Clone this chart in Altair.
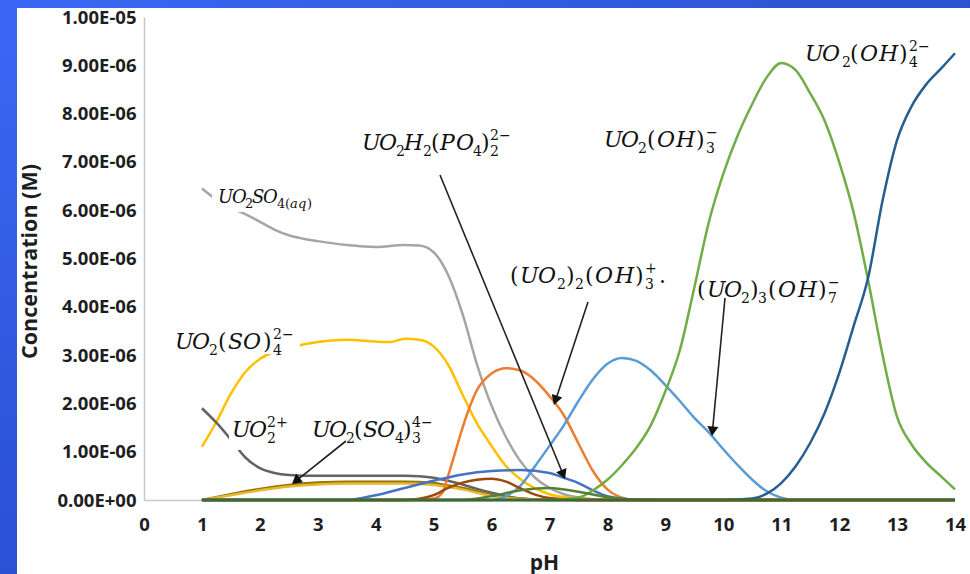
import math
import altair as alt
import pandas as pd

# ------------------------------------------------------------------
# Data (pH, concentration in micro-molar)
# ------------------------------------------------------------------
ph_uo2so4 = [1, 1.25, 1.5, 1.75, 2, 2.25, 2.5, 2.75, 3, 3.5, 4, 4.5, 4.75, 5, 5.25, 5.5,
             5.75, 6, 6.25, 6.5, 6.75, 7, 7.25, 7.5, 8, 14]
c_uo2so4 = [6.45, 6.22, 6.05, 5.92, 5.76, 5.6, 5.48, 5.41, 5.36, 5.28, 5.24, 5.28, 5.27, 5.13,
            4.66, 3.85, 2.8, 1.95, 1.3, 0.8, 0.46, 0.25, 0.12, 0.05, 0, 0]

ph_uo2so4_2 = [1, 1.25, 1.5, 1.75, 2, 2.25, 2.5, 2.75, 3, 3.5, 4, 4.25, 4.5, 4.75, 5, 5.25,
               5.5, 5.75, 6, 6.25, 6.5, 6.75, 7, 7.5, 8, 14]
c_uo2so4_2 = [1.1, 1.62, 2.2, 2.65, 2.92, 3.07, 3.16, 3.22, 3.27, 3.32, 3.28, 3.27, 3.34, 3.32,
              3.18, 2.8, 2.18, 1.58, 1.12, 0.7, 0.43, 0.24, 0.12, 0.03, 0, 0]

ph_uo2 = [1, 1.25, 1.5, 1.75, 2, 2.25, 2.5, 3, 3.5, 4, 4.5, 4.75, 5, 5.25, 5.5, 5.75, 6,
          6.25, 6.5, 7, 14]
c_uo2 = [1.9, 1.6, 1.25, 0.88, 0.66, 0.56, 0.52, 0.5, 0.5, 0.5, 0.5, 0.49, 0.46, 0.4, 0.32,
         0.23, 0.15, 0.08, 0.03, 0, 0]

ph_uo2so4_3 = [1, 1.5, 2, 2.5, 3, 3.5, 4, 4.5, 5, 5.25, 5.5, 5.75, 6, 6.5, 7, 14]
c_uo2so4_3 = [0, 0.12, 0.23, 0.31, 0.36, 0.38, 0.38, 0.38, 0.35, 0.3, 0.25, 0.18, 0.1, 0.03, 0, 0]

ph_tan = [1, 1.5, 2, 2.5, 3, 3.5, 4, 4.5, 5, 5.25, 5.5, 5.75, 6, 6.5, 7, 14]
c_tan = [0, 0.1, 0.2, 0.28, 0.32, 0.34, 0.34, 0.34, 0.31, 0.27, 0.22, 0.15, 0.08, 0.02, 0, 0]

ph_uo2_2oh3 = [1, 4.5, 5, 5.15, 5.25, 5.4, 5.5, 5.75, 6, 6.25, 6.5, 6.75, 7, 7.25, 7.5, 7.75,
               8, 8.25, 8.5, 14]
c_uo2_2oh3 = [0, 0, 0.03, 0.15, 0.5, 1.1, 1.5, 2.28, 2.62, 2.73, 2.68, 2.48, 2.15, 1.75, 1.17,
              0.6, 0.22, 0.05, 0, 0]

ph_uo2_3oh7 = [1, 6, 6.25, 6.5, 6.75, 7, 7.25, 7.5, 7.75, 8, 8.25, 8.5, 8.75, 9, 9.25, 9.5,
               9.75, 10, 10.25, 10.5, 10.75, 11, 11.25, 14]
c_uo2_3oh7 = [0, 0, 0.08, 0.3, 0.7, 1.12, 1.55, 2.05, 2.5, 2.82, 2.94, 2.88, 2.68, 2.38, 2.05,
              1.7, 1.4, 1.05, 0.72, 0.42, 0.18, 0.05, 0, 0]

ph_uo2h2po4 = [1, 3.5, 4, 4.5, 5, 5.5, 6, 6.5, 7, 7.25, 7.5, 7.75, 8, 8.5, 9, 14]
c_uo2h2po4 = [0, 0, 0.1, 0.25, 0.4, 0.53, 0.6, 0.62, 0.56, 0.46, 0.35, 0.2, 0.08, 0.01, 0, 0]

ph_brown = [1, 4.5, 5, 5.25, 5.5, 5.75, 6, 6.25, 6.5, 6.75, 7, 7.5, 14]
c_brown = [0, 0, 0.1, 0.25, 0.36, 0.42, 0.44, 0.38, 0.24, 0.11, 0.04, 0, 0]

ph_uo2oh3 = [1, 7, 7.5, 7.75, 8, 8.25, 8.5, 8.75, 9, 9.25, 9.5, 9.75, 10, 10.25, 10.5, 10.75,
             11, 11.25, 11.5, 11.75, 12, 12.25, 12.5, 12.75, 13, 13.25, 13.5, 13.75, 14]
c_uo2oh3 = [0, 0, 0.05, 0.2, 0.42, 0.72, 1.08, 1.55, 2.25, 3.1, 4.4, 5.75, 6.75, 7.55, 8.2, 8.75,
            9.05, 8.9, 8.42, 7.85, 7.0, 5.95, 4.55, 3.0, 1.72, 1.15, 0.78, 0.5, 0.22]

ph_uo2oh4 = [1, 10, 10.5, 10.75, 11, 11.25, 11.5, 11.75, 12, 12.25, 12.5, 12.75, 13, 13.25,
             13.5, 13.75, 14]
c_uo2oh4 = [0, 0, 0.03, 0.13, 0.35, 0.7, 1.18, 1.8, 2.62, 3.6, 4.6, 6.2, 7.45, 8.15, 8.6,
            8.92, 9.25]

ph_green_hump = [1, 5.5, 6, 6.5, 7, 7.5, 8, 8.5, 14]
c_green_hump = [0, 0, 0.08, 0.2, 0.25, 0.17, 0.06, 0, 0]

ph_baseline = [1, 14]
c_baseline = [0, 0]

series_names = ["UO2SO4(aq)", "UO2(SO4)2 2-", "UO2 2+", "UO2(SO4)3 4-", "minor sulfate",
                "(UO2)2(OH)3 +", "(UO2)3(OH)7 -", "UO2H2(PO4)2 2-", "minor 1",
                "UO2(OH)3 -", "UO2(OH)4 2-", "minor 2", "minor 3"]
series_colors = ["#A5A5A5", "#FFC000", "#636363", "#997300", "#E6B830",
                 "#ED7D31", "#5B9BD5", "#4472C4", "#9E480E",
                 "#70AD47", "#255E91", "#548235", "#43682B"]
series_ph = [ph_uo2so4, ph_uo2so4_2, ph_uo2, ph_uo2so4_3, ph_tan, ph_uo2_2oh3, ph_uo2_3oh7,
             ph_uo2h2po4, ph_brown, ph_uo2oh3, ph_uo2oh4, ph_green_hump, ph_baseline]
series_c = [c_uo2so4, c_uo2so4_2, c_uo2, c_uo2so4_3, c_tan, c_uo2_2oh3, c_uo2_3oh7,
            c_uo2h2po4, c_brown, c_uo2oh3, c_uo2oh4, c_green_hump, c_baseline]

y_tick_values = [i / 1e6 for i in range(11)]
x_tick_values = list(range(15))

# ------------------------------------------------------------------
# Layout constants
# ------------------------------------------------------------------
W, H = 811, 483
PAD = {"left": 144, "top": 17, "right": 15, "bottom": 74}
XMAX, YMAX = 14.0, 1e-5


def px_to_ph(px):
    return (px - PAD["left"]) * XMAX / W


def px_to_conc(py):
    return (PAD["top"] + H - py) * YMAX / H


x_enc = alt.X(
    "pH:Q",
    scale=alt.Scale(domain=[0, XMAX], nice=False, zero=False),
    axis=alt.Axis(
        values=x_tick_values, title="pH", grid=False, ticks=False, tickSize=0,
        labelPadding=15, labelFont="Open Sans", labelFontSize=18.5, labelFontWeight="bold",
        labelColor="#1e1e1e", labelFlush=False, labelOverlap=False,
        domainColor="#c8c8c8", domainWidth=1.5,
        titleFont="Open Sans", titleFontSize=21, titleFontWeight="bold", titleColor="#1e1e1e",
        titleX=400, titleY=69, titleAlign="center", titleBaseline="alphabetic",
    ),
)

ylab = "floor(log(datum.value) / LN10 + 1e-9)"
y_label_expr = (
    "datum.value == 0 ? '0.00E+00' : (format(datum.value / pow(10, " + ylab + "), '.2f') + 'E' + ("
    + ylab + " < 0 ? '-' : '+') + (abs(" + ylab + ") < 10 ? '0' : '') + abs(" + ylab + "))"
)
y_enc = alt.Y(
    "conc:Q",
    scale=alt.Scale(domain=[0, YMAX], nice=False),
    axis=alt.Axis(
        values=y_tick_values, labelExpr=y_label_expr, title="Concentration (M)",
        grid=False, ticks=False, tickSize=0, labelPadding=8,
        labelFont="Open Sans", labelFontSize=18.5, labelFontWeight="bold", labelColor="#1e1e1e",
        labelOverlap=False, domainColor="#c8c8c8", domainWidth=1.5,
        titleFont="Open Sans", titleFontSize=21.5, titleFontWeight="bold", titleColor="#1e1e1e",
        titleX=-108, titleY=244, titleAlign="center", titleBaseline="alphabetic",
        titleAngle=270,
    ),
)

layers = []

# ---------------- curves ----------------
for name, color, phs, vals in zip(series_names, series_colors, series_ph, series_c):
    d = pd.DataFrame({"pH": phs, "conc": [v * 1e-6 for v in vals], "species": name})
    layers.append(
        alt.Chart(d).mark_line(interpolate="monotone", strokeWidth=2.5, color=color)
        .encode(x=x_enc, y=y_enc)
    )

# ---------------- white boxes behind some labels ----------------
boxes_px = [(212, 338, 180, 212), (172, 300, 322, 354), (229, 291, 415, 450)]
box_df = pd.DataFrame([
    {"pH": px_to_ph(a), "pH2": px_to_ph(b), "conc": px_to_conc(c), "conc2": px_to_conc(d)}
    for a, b, c, d in boxes_px
])
layers.append(
    alt.Chart(box_df).mark_rect(color="white").encode(
        x=x_enc, x2="pH2:Q", y=y_enc, y2="conc2:Q")
)

# ---------------- arrows ----------------
arrows_px = [((588, 302), (554, 405)),
             ((440, 175), (565, 479)),
             ((725, 298), (712, 436)),
             ((346, 441), (292, 484))]
arrow_rows, head_rows = [], []
for (tx, ty), (hx, hy) in arrows_px:
    dx, dy = hx - tx, hy - ty
    L = math.hypot(dx, dy)
    ux, uy = dx / L, dy / L
    ang = math.degrees(math.atan2(ux, -uy)) % 360
    arrow_rows.append({"pH": px_to_ph(tx), "conc": px_to_conc(ty),
                       "pH2": px_to_ph(hx - ux * 6), "conc2": px_to_conc(hy - uy * 6)})
    head_rows.append({"pH": px_to_ph(hx - ux * 4.8), "conc": px_to_conc(hy - uy * 4.8),
                      "ang": ang})
layers.append(
    alt.Chart(pd.DataFrame(arrow_rows)).mark_rule(color="#222222", strokeWidth=1.6)
    .encode(x=x_enc, y=y_enc, x2="pH2:Q", y2="conc2:Q")
)
layers.append(
    alt.Chart(pd.DataFrame(head_rows)).mark_point(
        shape="triangle-up", filled=True, size=125, color="#111111", opacity=1, strokeWidth=0)
    .encode(x=x_enc, y=y_enc, angle=alt.Angle("ang:Q", scale=None))
)

# ---------------- species labels (formula pieces, one glyph group each) ----------------
# (anchor x px, baseline y px, main size, script size, pieces(text, dx, role))
# role: first letter m=main line, b=subscript, p=superscript; second i=italic, r=roman
MI, MR, BR, BI, PR = "mi", "mr", "br", "bi", "pr"
labels = [
    (218, 203, 18, 13, [("U", 0, MI), ("O", 14, MI), ("2", 27, BR), ("S", 34, MI),
                        ("O", 45, MI), ("4", 59, BR), ("(", 67, BR), ("a", 72, BI),
                        ("q", 80, BI), (")", 89, BR)]),
    (362, 150, 22, 14, [("U", 0, MI), ("O", 17, MI), ("2", 34, BR), ("H", 42, MI),
                        ("2", 61, BR), ("(", 69, MR), ("P", 78, MI), ("O", 94, MI),
                        ("4", 111, BR), (")", 119, MR), ("2\u2212", 128, PR), ("2", 128, BR)]),
    (604, 147, 22, 14, [("U", 0, MI), ("O", 17, MI), ("2", 34, BR), ("(", 43, MR),
                        ("O", 53, MI), ("H", 72, MI), (")", 92, MR),
                        ("\u2212", 102, PR), ("3", 102, BR)]),
    (805, 61, 22, 14, [("U", 0, MI), ("O", 17, MI), ("2", 37, BR), ("(", 45, MR),
                       ("O", 55, MI), ("H", 74, MI), (")", 94, MR),
                       ("2\u2212", 104, PR), ("4", 104, BR)]),
    (175, 349, 22, 14, [("U", 0, MI), ("O", 17, MI), ("2", 34, BR), ("(", 43, MR),
                        ("S", 53, MI), ("O", 68, MI), (")", 88, MR),
                        ("2\u2212", 98, PR), ("4", 98, BR)]),
    (232, 437, 22, 14, [("U", 0, MI), ("O", 17, MI), ("2+", 35, PR), ("2", 35, BR)]),
    (312, 437, 22, 14, [("U", 0, MI), ("O", 17, MI), ("2", 34, BR), ("(", 42, MR),
                        ("S", 51, MI), ("O", 65, MI), ("4", 83, BR), (")", 91, MR),
                        ("4\u2212", 100, PR), ("3", 100, BR)]),
    (510, 283, 22, 14, [("(", 0, MR), ("U", 10, MI), ("O", 28, MI), ("2", 47, BR),
                        (")", 56, MR), ("2", 65, BR), ("(", 75, MR), ("O", 85, MI),
                        ("H", 105, MI), (")", 125, MR), ("+", 135, PR), ("3", 135, BR),
                        (".", 149, MR)]),
    (697, 297, 22, 14, [("(", 0, MR), ("U", 10, MI), ("O", 27, MI), ("2", 44, BR),
                        (")", 53, MR), ("3", 61, BR), ("(", 71, MR), ("O", 81, MI),
                        ("H", 101, MI), (")", 121, MR), ("\u2212", 131, PR), ("7", 131, BR)]),
]
text_rows = []
for ax, by, msize, ssize, pieces in labels:
    for txt, dxp, role in pieces:
        pos, sty = role[0], role[1]
        if pos == "m":
            yy, fs = by, msize
        elif pos == "b":
            yy, fs = by + 0.28 * msize, ssize
        else:
            yy, fs = by - 0.45 * msize, ssize
        text_rows.append({"pH": px_to_ph(ax + dxp), "conc": px_to_conc(yy), "t": txt,
                          "fs": fs, "sty": sty})
text_df = pd.DataFrame(text_rows)
for sty, fstyle in (("i", "italic"), ("r", "normal")):
    layers.append(
        alt.Chart(text_df[text_df["sty"] == sty]).mark_text(
            align="left", baseline="alphabetic", font="DejaVu Serif", fontStyle=fstyle,
            color="#111111")
        .encode(x=x_enc, y=y_enc, text="t:N", size=alt.Size("fs:Q", scale=None))
    )

# ---------------- blue frame strips (decoration outside plot) ----------------
one = pd.DataFrame({"k": [0]})
left_grad = alt.LinearGradient(
    gradient="linear", x1=0, x2=0, y1=0, y2=1,
    stops=[alt.GradientStop(color="#3a68f5", offset=0), alt.GradientStop(color="#2a50d4", offset=1)])
top_grad = alt.LinearGradient(
    gradient="linear", x1=0, x2=1, y1=0, y2=0,
    stops=[alt.GradientStop(color="#3a68f5", offset=0), alt.GradientStop(color="#2a52d0", offset=1)])
layers.append(
    alt.Chart(one).mark_rect(color=left_grad).encode(
        x=alt.value(-PAD["left"]), x2=alt.value(17 - PAD["left"]),
        y=alt.value(-PAD["top"]), y2=alt.value(574 - PAD["top"]))
)
layers.append(
    alt.Chart(one).mark_rect(color=top_grad).encode(
        x=alt.value(-PAD["left"]), x2=alt.value(970 - PAD["left"]),
        y=alt.value(-PAD["top"]), y2=alt.value(8 - PAD["top"]))
)

chart = (
    alt.layer(*layers)
    .properties(width=W, height=H, padding=PAD,
                autosize=alt.AutoSizeParams(type="none"), background="white")
    .configure_view(stroke=None)
)

chart.save("out.html", embed_options={"renderer": "svg", "actions": False})
